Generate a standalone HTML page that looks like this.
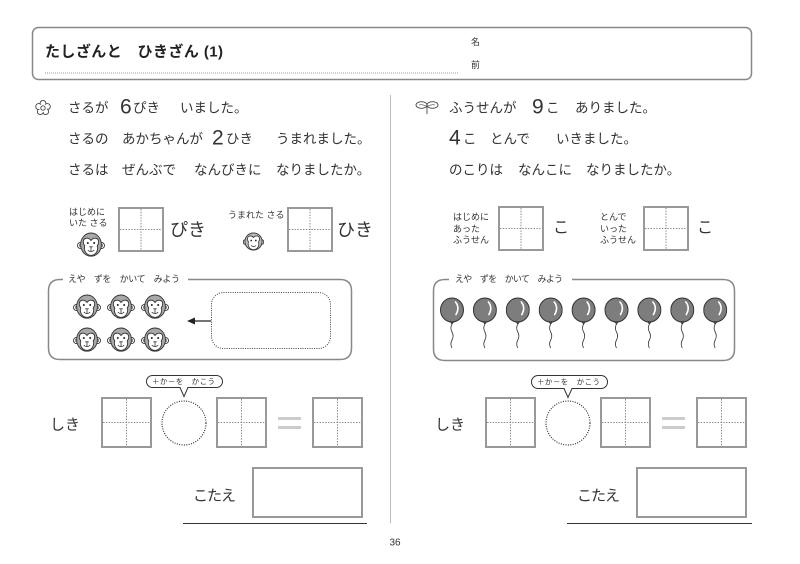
<!DOCTYPE html>
<html><head><meta charset="utf-8"><style>
html,body{margin:0;padding:0;background:#fff;}
svg{display:block;}
text{font-family:"Liberation Sans","Noto Sans CJK JP",sans-serif;fill:#333;}
</style></head><body>
<svg width="800" height="564" viewBox="0 0 800 564" xmlns="http://www.w3.org/2000/svg">
<defs>
<symbol id="monkey" viewBox="0 0 28 25">
 <circle cx="3.6" cy="13.5" r="3.1" fill="#fff" stroke="#333" stroke-width="0.9"/>
 <circle cx="3.9" cy="13.5" r="1.4" fill="none" stroke="#333" stroke-width="0.6"/>
 <circle cx="24.4" cy="13.5" r="3.1" fill="#fff" stroke="#333" stroke-width="0.9"/>
 <circle cx="24.1" cy="13.5" r="1.4" fill="none" stroke="#333" stroke-width="0.6"/>
 <ellipse cx="14" cy="12.6" rx="10.4" ry="11.6" fill="#a8a8a8" stroke="#333" stroke-width="0.9"/>
 <path d="M14 8.5 C11.5 5 6.3 5.5 6.3 10 C6.3 12 7.2 13 7.8 14 C6.8 16.5 7.5 22.8 14 23.4 C20.5 22.8 21.2 16.5 20.2 14 C20.8 13 21.7 12 21.7 10 C21.7 5.5 16.5 5 14 8.5Z" fill="#fff" stroke="#333" stroke-width="0.9"/>
 <circle cx="10.8" cy="11" r="1" fill="#222"/>
 <circle cx="17.2" cy="11" r="1" fill="#222"/>
 <path d="M12.3 14.8 H15.7 M14 14.8 V19 M10.8 18.2 Q14 21 17.2 18.2" fill="none" stroke="#333" stroke-width="0.8"/>
</symbol>
<symbol id="baby" viewBox="0 0 21 22">
 <circle cx="2.8" cy="12" r="2.5" fill="#fff" stroke="#333" stroke-width="0.9"/>
 <circle cx="18.2" cy="12" r="2.5" fill="#fff" stroke="#333" stroke-width="0.9"/>
 <circle cx="10.5" cy="11.5" r="8.6" fill="#bbb" stroke="#333" stroke-width="0.9"/>
 <path d="M10.5 7.5 C8.5 5 4.5 5.5 4.5 9 C4.5 10.5 5 11 5.5 12 C4.5 15 6 19.6 10.5 19.8 C15 19.6 16.5 15 15.5 12 C16 11 16.5 10.5 16.5 9 C16.5 5.5 12.5 5 10.5 7.5Z" fill="#fff" stroke="#333" stroke-width="0.8"/>
 <circle cx="8.2" cy="10.5" r="0.9" fill="#222"/>
 <circle cx="12.8" cy="10.5" r="0.9" fill="#222"/>
 <path d="M8 15.5 Q10.5 17.5 13 15.5" fill="none" stroke="#333" stroke-width="0.8"/>
</symbol>
<symbol id="balloon" viewBox="0 0 24 54">
 <ellipse cx="12" cy="12.5" rx="11.5" ry="12" fill="#7d7d7d" stroke="#333" stroke-width="1"/>
 <path d="M15.5 4.5 Q20 10 16 17" fill="none" stroke="#fff" stroke-width="1.6" stroke-linecap="round"/>
 <path d="M10.3 24.3 L12 26.6 L13.7 24.3Z" fill="#555" stroke="#333" stroke-width="0.8"/>
 <path d="M12 26.6 Q9.8 30.5 12 34.5 Q14.2 38.5 12 42.5 Q9.8 46.5 12 50.5" fill="none" stroke="#333" stroke-width="0.8"/>
</symbol>
<g id="grid">
 <rect x="0" y="0" width="49" height="49" fill="#fff" stroke="#999" stroke-width="2"/>
 <path d="M24.5 1 V48 M1 24.5 H48" stroke="#888" stroke-width="1" stroke-dasharray="1.4 1.4"/>
</g>
<g id="sgrid">
 <rect x="0" y="0" width="44" height="43" fill="#fff" stroke="#999" stroke-width="2"/>
 <path d="M22 1 V42 M1 21.5 H43" stroke="#888" stroke-width="1" stroke-dasharray="1.4 1.4"/>
</g>
</defs>

<rect width="800" height="564" fill="#fff"/>

<!-- Header -->
<rect x="32.5" y="27.5" width="719" height="52" rx="6" fill="none" stroke="#888" stroke-width="1.5"/>
<text x="45" y="52" font-size="15" font-weight="bold" dominant-baseline="central" textLength="178" lengthAdjust="spacing" style="fill:#222">たしざんと　ひきざん (1)</text>
<line x1="45" y1="73" x2="458" y2="73" stroke="#999" stroke-width="1" stroke-dasharray="1 1"/>
<text x="471" y="42" font-size="9" dominant-baseline="central">名</text>
<text x="471" y="65" font-size="9" dominant-baseline="central">前</text>

<!-- divider -->
<line x1="390.5" y1="95" x2="390.5" y2="523" stroke="#bbb" stroke-width="1"/>

<!-- Left question -->
<g fill="#fff" stroke="#444" stroke-width="0.9">
 <circle cx="43" cy="103.5" r="3"/>
 <circle cx="47.3" cy="106.6" r="3"/>
 <circle cx="45.6" cy="111.6" r="3"/>
 <circle cx="40.4" cy="111.6" r="3"/>
 <circle cx="38.7" cy="106.6" r="3"/>
 <circle cx="43" cy="108" r="4" stroke="none"/>
 <circle cx="43" cy="108" r="2.2"/>
</g>
<g font-size="13.5" dominant-baseline="central">
 <text x="68" y="108">さるが</text>
 <text x="120" y="107" font-size="21">6</text>
 <text x="133" y="108">ぴき</text>
 <text x="180" y="108">いました。</text>
 <text x="68" y="139">さるの</text>
 <text x="122" y="139">あかちゃんが</text>
 <text x="212" y="138" font-size="21">2</text>
 <text x="226" y="139">ひき</text>
 <text x="276" y="139">うまれました。</text>
 <text x="68" y="170">さるは</text>
 <text x="122" y="170">ぜんぶで</text>
 <text x="194" y="170">なんびきに</text>
 <text x="276" y="170">なりましたか。</text>
</g>

<!-- Right question -->
<g fill="#fff" stroke="#444" stroke-width="0.9">
 <ellipse cx="421.5" cy="105" rx="5.5" ry="3.3"/>
 <ellipse cx="432.5" cy="105" rx="5.5" ry="3.3"/>
 <path d="M427 106 V114" fill="none"/>
 <path d="M419 105 Q422 104 426 106 M435 105 Q432 104 428 106" fill="none" stroke-width="0.6"/>
</g>
<g font-size="13.5" dominant-baseline="central">
 <text x="449" y="108">ふうせんが</text>
 <text x="532" y="107" font-size="21">9</text>
 <text x="546" y="108">こ</text>
 <text x="575" y="108">ありました。</text>
 <text x="449" y="138" font-size="21">4</text>
 <text x="463" y="139">こ</text>
 <text x="490" y="139">とんで</text>
 <text x="556" y="139">いきました。</text>
 <text x="449" y="170">のこりは</text>
 <text x="518" y="170">なんこに</text>
 <text x="586" y="170">なりましたか。</text>
</g>

<!-- Left middle -->
<g font-size="9" dominant-baseline="central">
 <text x="69" y="212">はじめに</text>
 <text x="69" y="223">いた さる</text>
 <text x="228" y="215">うまれた さる</text>
</g>
<use href="#monkey" x="77" y="232" width="28" height="25"/>
<use href="#sgrid" x="119" y="208"/>
<text x="170" y="230" font-size="18" dominant-baseline="central">ぴき</text>
<use href="#baby" x="243" y="230" width="21" height="22"/>
<use href="#sgrid" x="288" y="208"/>
<text x="337" y="230" font-size="18" dominant-baseline="central">ひき</text>

<!-- Left drawing area -->
<path d="M63 279.5 H60 Q48.5 279.5 48.5 291 V348 Q48.5 359.5 60 359.5 H340 Q351.5 359.5 351.5 348 V291 Q351.5 279.5 340 279.5 H188" fill="none" stroke="#888" stroke-width="1.5"/>
<text x="68" y="279" font-size="9" dominant-baseline="central" textLength="112" lengthAdjust="spacing">えや　ずを　かいて　みよう</text>
<use href="#monkey" x="73" y="294" width="28" height="25"/>
<use href="#monkey" x="107" y="294" width="28" height="25"/>
<use href="#monkey" x="141" y="294" width="28" height="25"/>
<use href="#monkey" x="73" y="327" width="28" height="25"/>
<use href="#monkey" x="107" y="327" width="28" height="25"/>
<use href="#monkey" x="141" y="327" width="28" height="25"/>
<line x1="211" y1="321" x2="193" y2="321" stroke="#222" stroke-width="1.3"/>
<path d="M187 321 L195 317.5 L195 324.5Z" fill="#222"/>
<rect x="211.5" y="292.5" width="119" height="56" rx="12" fill="none" stroke="#444" stroke-width="1" stroke-dasharray="1 1.3"/>

<!-- Right middle -->
<g font-size="9" dominant-baseline="central">
 <text x="453" y="217">はじめに</text>
 <text x="453" y="229">あった</text>
 <text x="453" y="240">ふうせん</text>
 <text x="600" y="217">とんで</text>
 <text x="600" y="229">いった</text>
 <text x="600" y="240">ふうせん</text>
</g>
<use href="#sgrid" x="499" y="207"/>
<text x="553" y="228" font-size="16" dominant-baseline="central">こ</text>
<use href="#sgrid" x="644" y="207"/>
<text x="697" y="228" font-size="16" dominant-baseline="central">こ</text>

<!-- Right drawing area -->
<path d="M449 279.5 H445 Q433.5 279.5 433.5 291 V349 Q433.5 360.5 445 360.5 H723 Q734.5 360.5 734.5 349 V291 Q734.5 279.5 723 279.5 H572" fill="none" stroke="#888" stroke-width="1.5"/>
<text x="455" y="279" font-size="9" dominant-baseline="central" textLength="108" lengthAdjust="spacing">えや　ずを　かいて　みよう</text>
<use href="#balloon" x="440" y="297.5" width="24" height="54"/>
<use href="#balloon" x="472.9" y="297.5" width="24" height="54"/>
<use href="#balloon" x="505.8" y="297.5" width="24" height="54"/>
<use href="#balloon" x="538.7" y="297.5" width="24" height="54"/>
<use href="#balloon" x="571.6" y="297.5" width="24" height="54"/>
<use href="#balloon" x="604.5" y="297.5" width="24" height="54"/>
<use href="#balloon" x="637.4" y="297.5" width="24" height="54"/>
<use href="#balloon" x="670.3" y="297.5" width="24" height="54"/>
<use href="#balloon" x="703.2" y="297.5" width="24" height="54"/>

<!-- Left equation -->
<text x="50" y="425" font-size="15" dominant-baseline="central">しき</text>
<use href="#grid" x="102" y="398"/>
<rect x="146.5" y="375.5" width="76" height="12" rx="6" fill="#fff" stroke="#333" stroke-width="1"/>
<path d="M180 387.5 L184 396.5 L188 387.5" fill="#fff" stroke="#333" stroke-width="1"/>
<line x1="180.7" y1="387.5" x2="187.3" y2="387.5" stroke="#fff" stroke-width="1.2"/>
<text x="152" y="381.5" font-size="7.5" dominant-baseline="central" textLength="63" lengthAdjust="spacing">＋か－を　かこう</text>
<circle cx="184" cy="423" r="22" fill="none" stroke="#333" stroke-width="1.2" stroke-dasharray="1 1.4"/>
<use href="#grid" x="217" y="398"/>
<path d="M278 418.5 H301 M278 427.5 H301" stroke="#ccc" stroke-width="3"/>
<use href="#grid" x="313" y="398"/>
<text x="193" y="496" font-size="15" dominant-baseline="central" textLength="43" lengthAdjust="spacing">こたえ</text>
<rect x="253" y="468" width="109" height="49" fill="#fff" stroke="#999" stroke-width="2"/>
<line x1="183" y1="523.5" x2="367" y2="523.5" stroke="#333" stroke-width="1"/>

<!-- Right equation -->
<text x="435" y="425" font-size="15" dominant-baseline="central">しき</text>
<use href="#grid" x="486" y="398"/>
<rect x="531.5" y="375.5" width="76" height="13" rx="6.5" fill="#fff" stroke="#333" stroke-width="1"/>
<path d="M564 388.5 L568 397.5 L572 388.5" fill="#fff" stroke="#333" stroke-width="1"/>
<line x1="564.7" y1="388.5" x2="571.3" y2="388.5" stroke="#fff" stroke-width="1.2"/>
<text x="537" y="382" font-size="7.5" dominant-baseline="central" textLength="63" lengthAdjust="spacing">＋か－を　かこう</text>
<circle cx="568" cy="423" r="22" fill="none" stroke="#333" stroke-width="1.2" stroke-dasharray="1 1.4"/>
<use href="#grid" x="601" y="398"/>
<path d="M662 418.5 H685 M662 427.5 H685" stroke="#ccc" stroke-width="3"/>
<use href="#grid" x="697" y="398"/>
<text x="577" y="496" font-size="15" dominant-baseline="central" textLength="43" lengthAdjust="spacing">こたえ</text>
<rect x="637" y="468" width="109" height="49" fill="#fff" stroke="#999" stroke-width="2"/>
<line x1="567" y1="523.5" x2="752" y2="523.5" stroke="#333" stroke-width="1"/>

<!-- page number -->
<text x="395" y="543" font-size="10" text-anchor="middle" dominant-baseline="central">36</text>
</svg>
</body></html>
